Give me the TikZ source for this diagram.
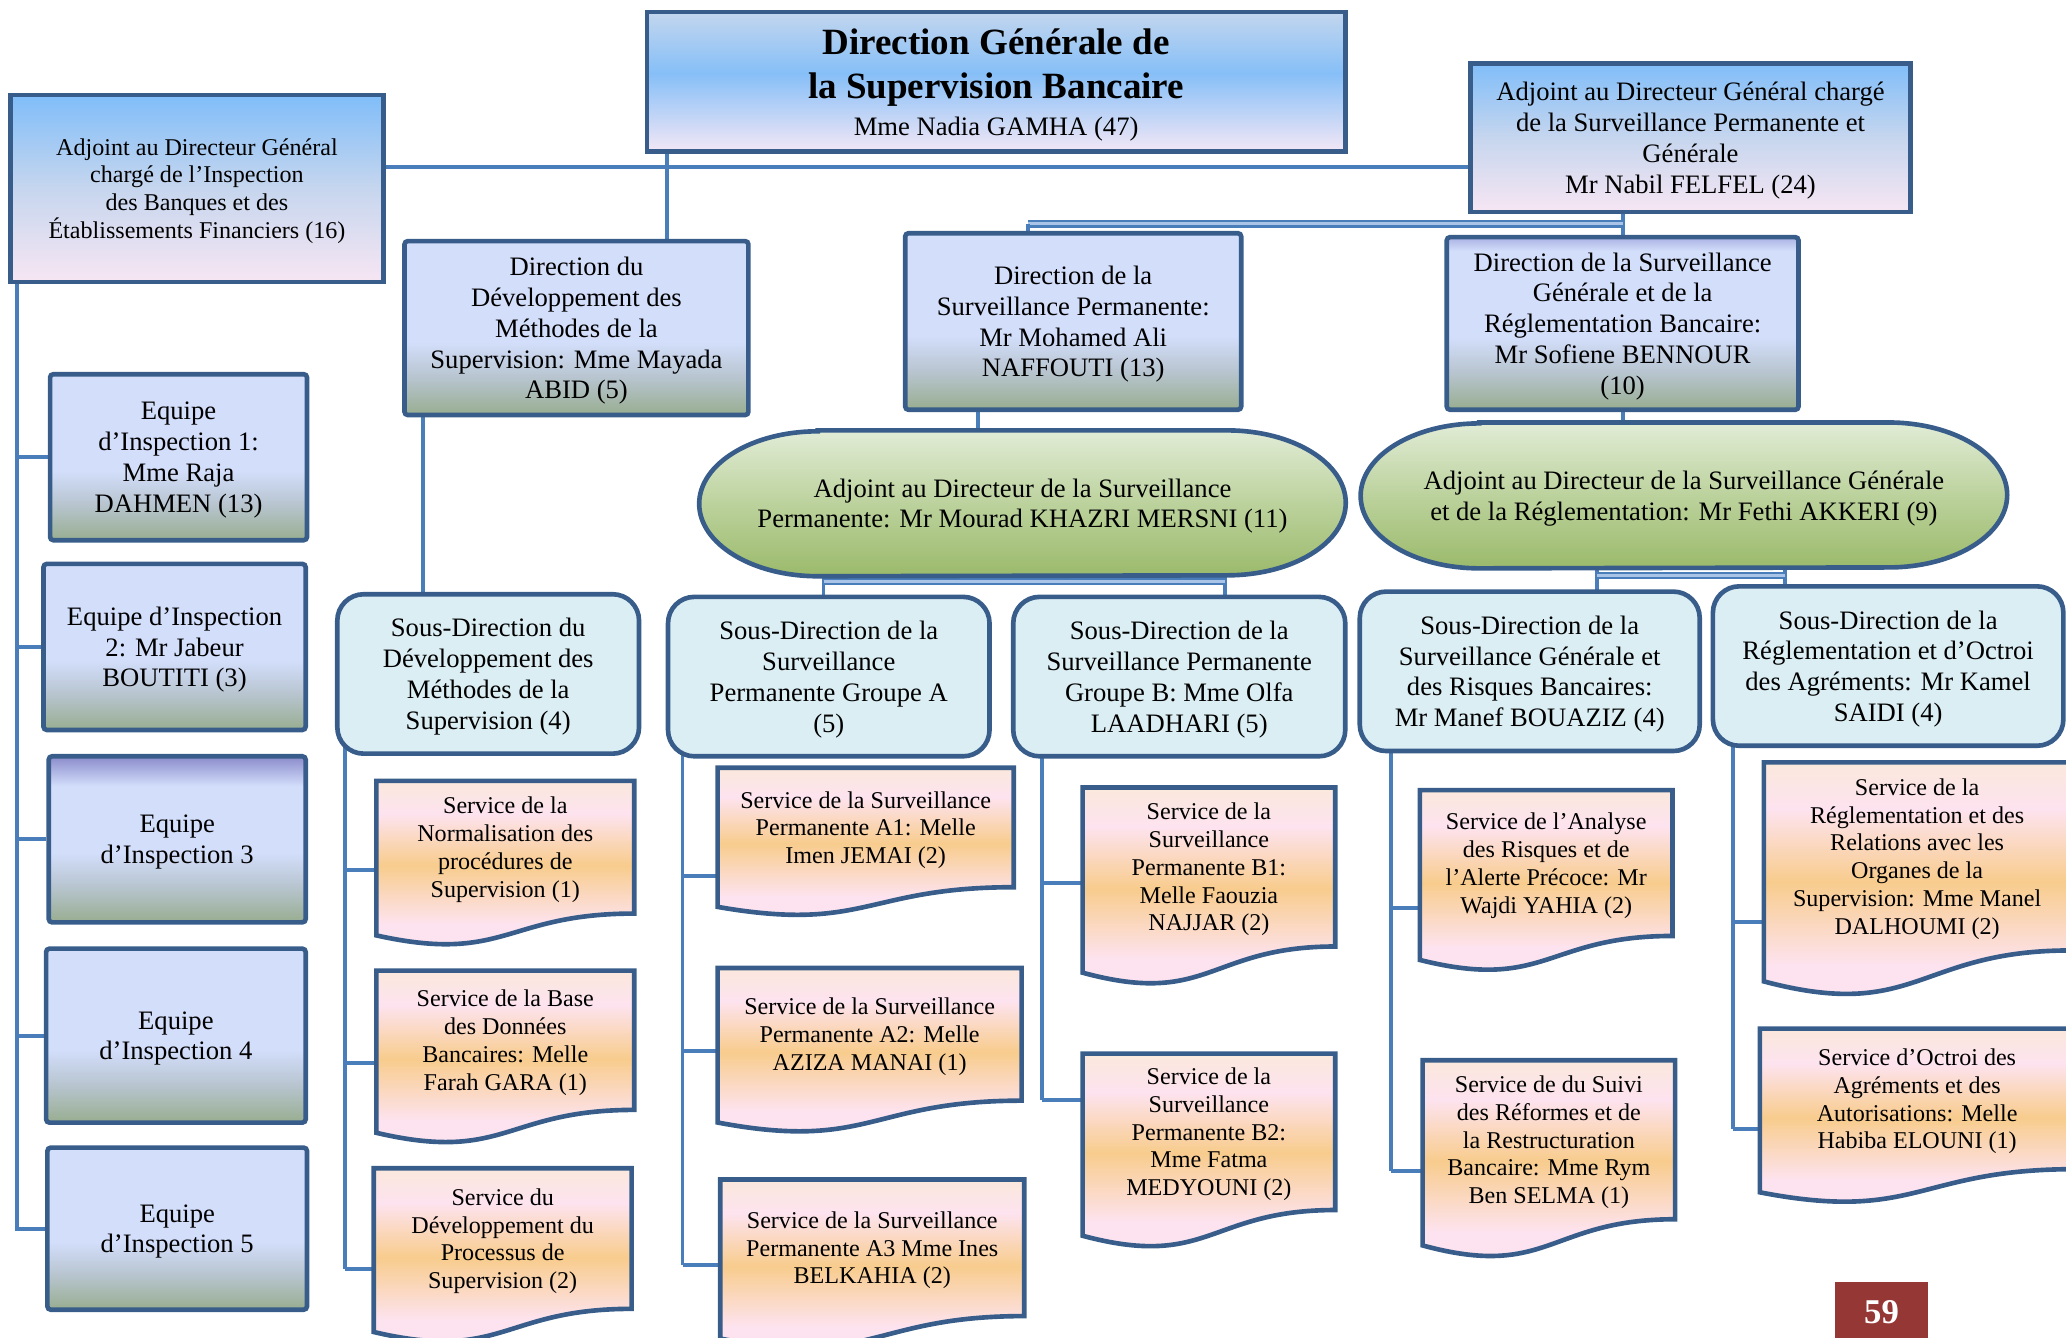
\documentclass[tikz,border=0pt]{standalone}
\usepackage{fontspec}
\setmainfont{Liberation Serif}
\usepackage{xcolor}
\usepackage{tikz}
\usetikzlibrary{positioning, calc, backgrounds}
\definecolor{bdr}{HTML}{385D8A}
\definecolor{lnk}{HTML}{4A7EBB}
\definecolor{lnklt}{HTML}{A9C4E6}
\definecolor{dgtop}{HTML}{C3D6EE}
\definecolor{dgmid}{HTML}{86BFF7}
\definecolor{dgbot}{HTML}{F3E7F6}
\definecolor{adjtop}{HTML}{80BDF9}
\definecolor{adjmid}{HTML}{C6D6EE}
\definecolor{adjbot}{HTML}{F7E6F3}
\definecolor{dirtop}{HTML}{D3DEFB}
\definecolor{dirmid}{HTML}{B8C5D0}
\definecolor{dirbot}{HTML}{98AD90}
\definecolor{purtop}{HTML}{8A8BCB}
\definecolor{purlt}{HTML}{A9B1E2}
\definecolor{grntop}{HTML}{E1ECD6}
\definecolor{grnmid}{HTML}{BCD29D}
\definecolor{grnbot}{HTML}{9BBA6B}
\definecolor{sdfill}{HTML}{DBEEF4}
\definecolor{svctop}{HTML}{FBE8DC}
\definecolor{svcpink}{HTML}{FDE3EF}
\definecolor{svcorg}{HTML}{F8CC8D}
\definecolor{pagered}{HTML}{953735}

\pgfdeclareverticalshading{dgshade}{100bp}{color(0bp)=(dgbot); color(25bp)=(dgbot); color(53bp)=(dgmid); color(75bp)=(dgtop); color(100bp)=(dgtop)}
\pgfdeclareverticalshading{adjshade}{100bp}{color(0bp)=(adjbot); color(25bp)=(adjbot); color(50bp)=(adjmid); color(75bp)=(adjtop); color(100bp)=(adjtop)}
\pgfdeclareverticalshading{dirshade}{100bp}{color(0bp)=(dirbot); color(25bp)=(dirbot); color(36bp)=(dirmid); color(46bp)=(dirtop); color(100bp)=(dirtop)}
\pgfdeclareverticalshading{purshade}{100bp}{color(0bp)=(dirbot); color(25bp)=(dirbot); color(36bp)=(dirmid); color(46bp)=(dirtop); color(66bp)=(dirtop); color(75bp)=(purtop); color(100bp)=(purtop)}
\pgfdeclareverticalshading{dsgshade}{100bp}{color(0bp)=(dirbot); color(25bp)=(dirbot); color(36bp)=(dirmid); color(46bp)=(dirtop); color(71bp)=(dirtop); color(75bp)=(purlt); color(100bp)=(purlt)}
\pgfdeclareverticalshading{grnshade}{100bp}{color(0bp)=(grnbot); color(25bp)=(grnbot); color(50bp)=(grnmid); color(75bp)=(grntop); color(100bp)=(grntop)}
\pgfdeclareverticalshading{svcshade}{100bp}{color(0bp)=(svcpink); color(36bp)=(svcpink); color(52bp)=(svcorg); color(66bp)=(svcpink); color(75bp)=(svctop); color(100bp)=(svctop)}

% service box with wavy bottom, and pill around a node
\newcommand{\docpath}[1]{(#1.north west) -- (#1.north east) -- (#1.south east)
  .. controls (#1.south) and ($(#1.north)!1.381!(#1.south)$) .. ($(#1.north west)!1.1646!(#1.south west)$) -- cycle}
\newcommand{\pillpath}[1]{($(#1.north west)+(90,0)$) -- ($(#1.north east)+(-90,0)$)
  arc[start angle=90, end angle=-90, x radius=18mm, y radius=11mm]
  -- ($(#1.south west)+(90,0)$)
  arc[start angle=270, end angle=90, x radius=18mm, y radius=11mm] -- cycle}

\begin{document}
\begin{tikzpicture}[
  x=0.2mm, y=-0.2mm,
  font=\fontsize{11.5}{13.3}\selectfont,
  wh/.style 2 args={minimum width=#1*0.2mm, minimum height=#2*0.2mm},
  base/.style={draw=bdr, line width=2pt, align=center, inner sep=0pt, text depth=-5pt},
  dgbox/.style={base, shade, shading=dgshade},
  adjbox/.style={base, shade, shading=adjshade},
  dirbox/.style={base, shade, shading=dirshade, rounded corners=0.5mm},
  sdbox/.style={base, fill=sdfill, rounded corners=4mm},
  pilltxt/.style={align=center, inner sep=0pt, text depth=-4pt},
  svc/.style={align=center, inner sep=0pt, text depth=-5pt, font=\fontsize{10.4}{12}\selectfont},
  conn/.style={draw=lnk, line width=1.7pt},
  dbl/.style={draw=lnk, line width=0.9pt, double=lnklt, double distance=1.3pt},
  docshape/.style={draw=bdr, line width=2pt, shade, shading=svcshade},
  pill/.style={draw=bdr, line width=2pt, shade, shading=grnshade},
  pagebox/.style={fill=pagered, text=white, inner sep=0pt, font=\fontsize{15}{17}\selectfont\bfseries}
]
  \useasboundingbox (0,0) rectangle (1568,1015);
  \clip (0,0) rectangle (1568,1015);

  % Top level
  \node[dgbox, wh={530}{106}, text depth=-9pt, font=\fontsize{16}{19}\selectfont\bfseries] (dg) at (756,62)
    {Direction Générale de\\la Supervision Bancaire\\[-3pt]{\fontsize{11.5}{13}\selectfont\mdseries Mme Nadia GAMHA (47)}};
  \node[adjbox, wh={283}{142}, font=\fontsize{10.4}{12}\selectfont] (adjinsp) at (149.5,143)
    {Adjoint au Directeur Général\\chargé de l’Inspection\\des Banques et des\\Établissements Financiers (16)};
  \node[adjbox, wh={334}{113}] (adjsurv) at (1283,104.5)
    {Adjoint au Directeur Général chargé\\de la Surveillance Permanente et\\Générale\\Mr Nabil FELFEL (24)};

  % Directions
  \node[dirbox, wh={261}{132}] (dirdev) at (437.5,249)
    {Direction du\\Développement des\\Méthodes de la\\Supervision: Mme Mayada\\ABID (5)};
  \node[dirbox, wh={255}{134}] (dirsp) at (814.5,244)
    {Direction de la\\Surveillance Permanente:\\Mr Mohamed Ali\\NAFFOUTI (13)};
  \node[dirbox, shading=dsgshade, wh={267}{131}] (dirsg) at (1231.5,245.5)
    {Direction de la Surveillance\\Générale et de la\\Réglementation Bancaire:\\Mr Sofiene BENNOUR\\(10)};

  % Adjoints (green)
  \node[pilltxt, wh={490}{110}] (adjsp) at (776,382)
    {Adjoint au Directeur de la Surveillance\\Permanente: Mr Mourad KHAZRI MERSNI (11)};
  \node[pilltxt, wh={490}{110}] (adjsg) at (1278,376)
    {Adjoint au Directeur de la Surveillance Générale\\et de la Réglementation: Mr Fethi AKKERI (9)};

  % Sous-Directions
  \node[sdbox, wh={229}{121}] (sddev) at (370.5,511.5)
    {Sous-Direction du\\Développement des\\Méthodes de la\\Supervision (4)};
  \node[sdbox, wh={244}{121}] (sdspa) at (629,513.5)
    {Sous-Direction de la\\Surveillance\\Permanente Groupe A\\(5)};
  \node[sdbox, wh={252}{121}] (sdspb) at (895,513.5)
    {Sous-Direction de la\\Surveillance Permanente\\Groupe B: Mme Olfa\\LAADHARI (5)};
  \node[sdbox, wh={258}{121}] (sdsgr) at (1161,509.5)
    {Sous-Direction de la\\Surveillance Générale et\\des Risques Bancaires:\\Mr Manef BOUAZIZ (4)};
  \node[sdbox, wh={266}{121}] (sdreg) at (1433,505.5)
    {Sous-Direction de la\\Réglementation et d’Octroi\\des Agréments: Mr Kamel\\SAIDI (4)};

  % Equipes d'inspection
  \node[dirbox, wh={195}{126}] (eq1) at (135.5,347) {Equipe\\d’Inspection 1:\\Mme Raja\\DAHMEN (13)};
  \node[dirbox, wh={199}{126}] (eq2) at (132.5,491) {Equipe d’Inspection\\2: Mr Jabeur\\BOUTITI (3)};
  \node[dirbox, shading=purshade, wh={195}{126}] (eq3) at (134.5,637) {Equipe\\d’Inspection 3};
  \node[dirbox, wh={197}{132}] (eq4) at (133.5,786) {Equipe\\d’Inspection 4};
  \node[dirbox, wh={197}{123}] (eq5) at (134.5,932.5) {Equipe\\d’Inspection 5};

  % Services
  \node[svc, wh={195}{100}] (s01) at (383.5,643) {Service de la\\Normalisation des\\procédures de\\Supervision (1)};
  \node[svc, wh={195}{105}] (s02) at (383.5,789.5) {Service de la Base\\des Données\\Bancaires: Melle\\Farah GARA (1)};
  \node[svc, wh={195}{106}] (s03) at (381.5,940) {Service du\\Développement du\\Processus de\\Supervision (2)};
  \node[svc, wh={224}{90}] (sa1) at (657,628) {Service de la Surveillance\\Permanente A1: Melle\\Imen JEMAI (2)};
  \node[svc, wh={230}{100}] (sa2) at (660,785) {Service de la Surveillance\\Permanente A2: Melle\\AZIZA MANAI (1)};
  \node[svc, wh={230}{103}] (sa3) at (662,947) {Service de la Surveillance\\Permanente A3 Mme Ines\\BELKAHIA (2)};
  \node[svc, wh={191}{120}] (sb1) at (917.5,658) {Service de la\\Surveillance\\Permanente B1:\\Melle Faouzia\\NAJJAR (2)};
  \node[svc, wh={191}{118}] (sb2) at (917.5,859) {Service de la\\Surveillance\\Permanente B2:\\Mme Fatma\\MEDYOUNI (2)};
  \node[svc, wh={191}{110}] (sg1) at (1173.5,655) {Service de l’Analyse\\des Risques et de\\l’Alerte Précoce: Mr\\Wajdi YAHIA (2)};
  \node[svc, wh={191}{120}] (sg2) at (1175.5,865) {Service de du Suivi\\des Réformes et de\\la Restructuration\\Bancaire: Mme Rym\\Ben SELMA (1)};
  \node[svc, wh={232}{142}] (sr1) at (1455,650) {Service de la\\Réglementation et des\\Relations avec les\\Organes de la\\Supervision: Mme Manel\\DALHOUMI (2)};
  \node[svc, wh={238}{106}] (sr2) at (1455,834) {Service d’Octroi des\\Agréments et des\\Autorisations: Melle\\Habiba ELOUNI (1)};

  \node[pagebox, wh={70}{46}] (page) at (1428,996) {59};

  \begin{scope}[on background layer]
    % Links between levels
    \coordinate (topbar) at (0,127);
    \draw[conn] (adjinsp.east |- topbar) -- (adjsurv.west |- topbar);
    \coordinate (devdrop) at (506,0);
    \draw[conn] (dg.center -| devdrop) -- (dirdev.north -| devdrop);
    \coordinate (survbar) at (780,170);
    \draw[conn] (adjsurv.center -| dirsg.north) -- (dirsg.center);
    \draw[dbl] (dirsg.north |- survbar) -- (survbar);
    \draw[conn] (survbar) -- (dirsp.center -| survbar);
    \coordinate (spdrop) at (742,0);
    \draw[conn] (dirsp.center -| spdrop) -- (adjsp.center -| spdrop);
    \draw[conn] (dirsg.center) -- (adjsg.center -| dirsg.center);
    \coordinate (sddrop) at (321,0);
    \draw[conn] (dirdev.center -| sddrop) -- (sddev.center -| sddrop);

    \coordinate (spbarl) at (625,441);
    \coordinate (spbarr) at (930,441);
    \draw[conn] (adjsp.center -| spbarl) -- (sdspa.center -| spbarl);
    \draw[conn] (adjsp.center -| spbarr) -- (sdspb.center -| spbarr);
    \draw[dbl] (spbarl) -- (spbarr);
    \coordinate (sgbarl) at (1212,437);
    \coordinate (sgbarr) at (1355,437);
    \draw[conn] (adjsg.center -| sgbarl) -- (sdsgr.center -| sgbarl);
    \draw[conn] (adjsg.center -| sgbarr) -- (sdreg.center -| sgbarr);
    \draw[dbl] (sgbarl) -- (sgbarr);

    % Equipes
    \coordinate (ltrunk) at (13,0);
    \draw[conn] (adjinsp.center -| ltrunk) |- (eq5.west);
    \foreach \e in {eq1,eq2,eq3,eq4}
      \draw[conn] (ltrunk |- \e.west) -- (\e.west);

    % Services
    \foreach \sd/\tx/\list in {sddev/262/{s01/17,s02/17,s03/23},
                               sdspa/518/{sa1/37,sa2/13,sa3/13},
                               sdspb/791/{sb1/12,sb2/-24},
                               sdsgr/1056/{sg1/34,sg2/24},
                               sdreg/1315/{sr1/50,sr2/23}} {
      \coordinate (t\sd) at (\tx,0);
      \foreach \s/\d in \list {
        \coordinate (b\s) at ($(\s.west)+(0,\d)$);
        \draw[conn] (t\sd |- b\s) -- (b\s);
      }
    }
    \draw[conn] (sddev.center -| tsddev) -- (tsddev |- bs03);
    \draw[conn] (sdspa.center -| tsdspa) -- (tsdspa |- bsa3);
    \draw[conn] (sdspb.center -| tsdspb) -- (tsdspb |- bsb2);
    \draw[conn] (sdsgr.center -| tsdsgr) -- (tsdsgr |- bsg2);
    \draw[conn] (sdreg.center -| tsdreg) -- (tsdreg |- bsr2);

    % Shapes behind the texts
    \foreach \s in {s01,s02,s03,sa1,sa2,sa3,sb1,sb2,sg1,sg2,sr1,sr2}
      \path[docshape] \docpath{\s};
    \path[pill] \pillpath{adjsp};
    \path[pill] \pillpath{adjsg};
  \end{scope}
\end{tikzpicture}
\end{document}
